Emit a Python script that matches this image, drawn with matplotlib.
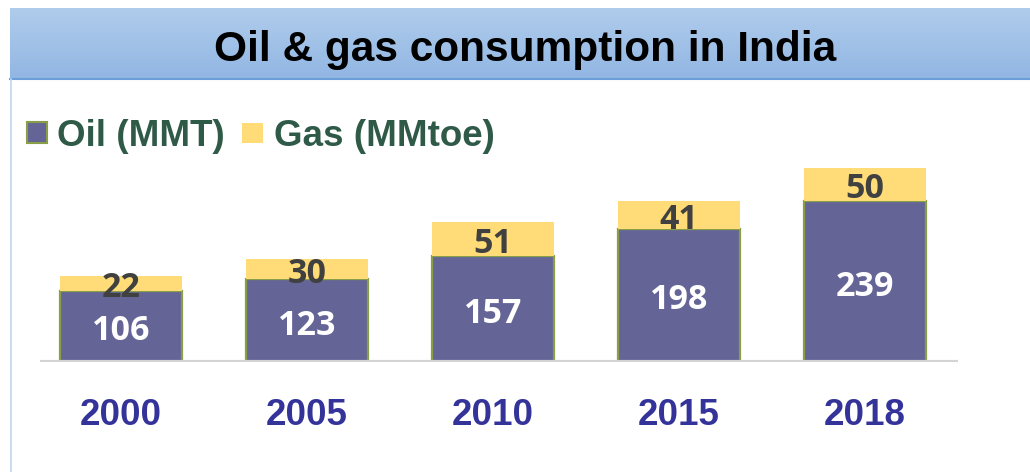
import matplotlib.pyplot as plt
import numpy as np
from matplotlib.lines import Line2D
from matplotlib.patches import Rectangle

years = ["2000", "2005", "2010", "2015", "2018"]
oil_mmt = [106, 123, 157, 198, 239]
gas_mmtoe = [22, 30, 51, 41, 50]
series_names = ["Oil (MMT)", "Gas (MMtoe)"]
title = "Oil & gas consumption in India"

OIL_COLOR = "#646596"
OIL_EDGE = "#8A9E48"
GAS_COLOR = "#FFDC78"
YEAR_COLOR = "#33339A"
LEGEND_COLOR = "#2F5A48"

W, H = 1030, 472
fig = plt.figure(figsize=(W / 100, H / 100), dpi=100)


def fx(px):
    return px / W


def fy(py):
    return 1 - py / H


# title band with vertical gradient
band = fig.add_axes([fx(10), fy(79), fx(1020), 71 / H])
gradient = np.linspace(0, 1, 256).reshape(-1, 1)
top = np.array([0.69, 0.80, 0.925])
bottom = np.array([0.57, 0.715, 0.89])
img = top + (bottom - top) * gradient[..., None]
band.imshow(img, aspect="auto", extent=[0, 1, 0, 1])
band.set_axis_off()
fig.add_artist(Line2D([fx(10), 1], [fy(79), fy(79)], color="#6C9FD9", lw=1.5))
fig.add_artist(Line2D([fx(10.5), fx(10.5)], [0, fy(79)], color="#BDD7EE", lw=1.2))
fig.text(0.51, fy(61), title, ha="center", va="baseline", fontsize=30.5,
         fontweight="bold", family="Liberation Sans", color="black")

# legend drawn by hand
fig.add_artist(Rectangle((fx(27), fy(143)), fx(20), 21 / H, facecolor=OIL_COLOR,
                         edgecolor=OIL_EDGE, lw=1.5))
fig.text(fx(57), fy(146), series_names[0], ha="left", va="baseline", fontsize=26.5,
         fontweight="bold", family="Liberation Sans", color=LEGEND_COLOR)
fig.add_artist(Rectangle((fx(242), fy(143)), fx(21), 20 / H, facecolor=GAS_COLOR,
                         edgecolor="none"))
fig.text(fx(274), fy(146), series_names[1], ha="left", va="baseline", fontsize=26.5,
         fontweight="bold", family="Liberation Sans", color=LEGEND_COLOR)

# bar axes
ax = fig.add_axes([fx(40), fy(362), fx(918), 272 / H])
ax.set_facecolor("none")
x = np.arange(len(years))
width = 0.656
ax.bar(x, oil_mmt, width, color=OIL_COLOR, edgecolor=OIL_EDGE, linewidth=1.6, zorder=2)
ax.bar(x, gas_mmtoe, width, bottom=oil_mmt, color=GAS_COLOR, edgecolor="none", zorder=2)
ax.set_xlim(-0.435, 4.5)
ax.set_ylim(0, 272 / 0.673)
ax.axhline(0, color="#D4D4D4", lw=3, zorder=3)
for side in ax.spines.values():
    side.set_visible(False)
ax.set_xticks([])
ax.set_yticks([])

for i, (oil, gas) in enumerate(zip(oil_mmt, gas_mmtoe)):
    ax.annotate(str(oil), (i, oil / 2), xytext=(0, -14 * 0.72), textcoords="offset points",
                ha="center", va="baseline", fontsize=24.5, fontweight="bold",
                family="Open Sans", color="white", zorder=4)
    ax.annotate(str(gas), (i, oil + gas / 2), xytext=(0, -14 * 0.72),
                textcoords="offset points", ha="center", va="baseline", fontsize=24.5,
                fontweight="bold", family="Open Sans", color="#404040", zorder=4)
    ax.annotate(years[i], (i, 0), xytext=(0, -63 * 0.72), textcoords="offset points",
                ha="center", va="baseline", fontsize=26.5, fontweight="bold",
                family="Liberation Sans", color=YEAR_COLOR, annotation_clip=False)

fig.savefig("out.png", dpi=100)
